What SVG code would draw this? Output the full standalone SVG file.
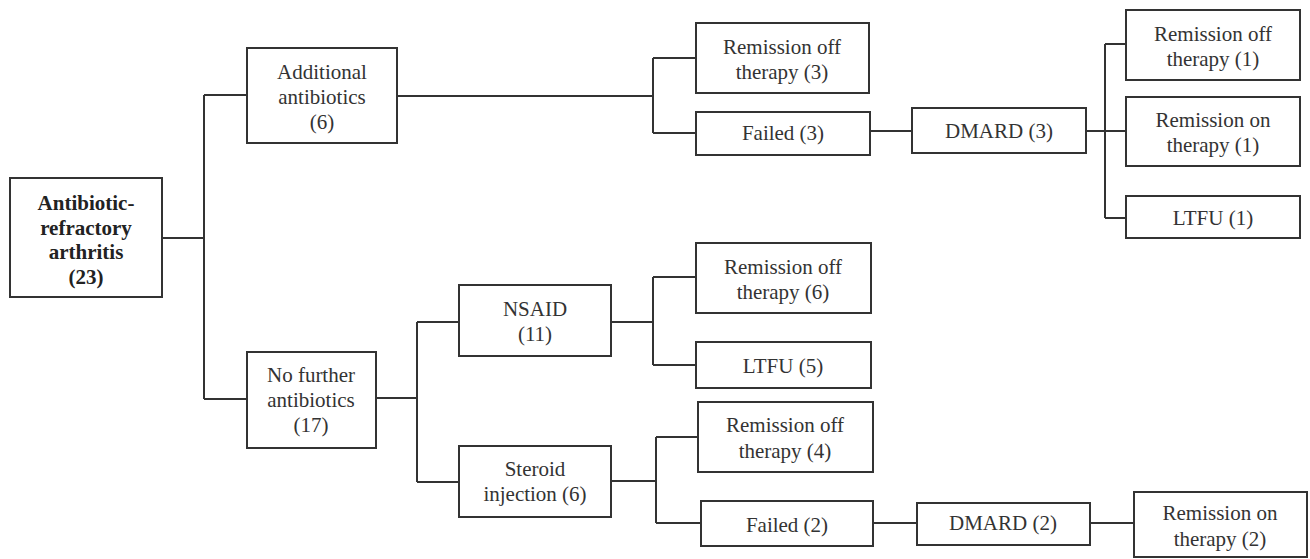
<svg xmlns="http://www.w3.org/2000/svg" width="1310" height="559" viewBox="0 0 1310 559">
<style>
.box{fill:#fff;stroke:#333;stroke-width:2}
.ln{fill:none;stroke:#333;stroke-width:2}
text{font-size:21px;fill:#333;text-anchor:middle}
.b{font-weight:bold;fill:#222}
</style>
<rect width="1310" height="559" fill="#fff"/>
<g id="connectors">
<path class="ln" d="M162 238H204M204 95V399M204 95H247M204 399H247"/>
<path class="ln" d="M397 96H653M653 58V133M653 58H696M653 133H696"/>
<path class="ln" d="M870 131H912"/>
<path class="ln" d="M1086 131H1126M1105 44V218M1105 44H1126M1105 218H1126"/>
<path class="ln" d="M376 398H417M417 322V482M417 322H459M417 482H459"/>
<path class="ln" d="M611 322H653M653 277V365M653 277H696M653 365H696"/>
<path class="ln" d="M611 481H656M656 437V523M656 437H698M656 523H701"/>
<path class="ln" d="M873 523H917M1090 523H1134"/>
</g>
<g font-family="Liberation Serif, serif">
<g id="root"><rect class="box" x="10" y="178" width="152" height="119"/>
<text class="b" x="86" y="210">Antibiotic-</text><text class="b" x="86" y="235">refractory</text><text class="b" x="86" y="259">arthritis</text><text class="b" x="86" y="284">(23)</text></g>
<g id="additional"><rect class="box" x="247" y="48" width="150" height="95"/>
<text x="322" y="79">Additional</text><text x="322" y="104">antibiotics</text><text x="322" y="129">(6)</text></g>
<g id="nofurther"><rect class="box" x="247" y="352" width="129" height="96"/>
<text x="311" y="382">No further</text><text x="311" y="407">antibiotics</text><text x="311" y="432">(17)</text></g>
<g id="remoff3"><rect class="box" x="696" y="23" width="173" height="70"/>
<text x="782" y="54">Remission off</text><text x="782" y="79">therapy (3)</text></g>
<g id="failed3"><rect class="box" x="696" y="112" width="174" height="43"/>
<text x="783" y="140">Failed (3)</text></g>
<g id="dmard3"><rect class="box" x="912" y="108" width="174" height="45"/>
<text x="999" y="138">DMARD (3)</text></g>
<g id="remoff1"><rect class="box" x="1126" y="10" width="174" height="70"/>
<text x="1213" y="41">Remission off</text><text x="1213" y="66">therapy (1)</text></g>
<g id="remon1"><rect class="box" x="1126" y="97" width="174" height="69"/>
<text x="1213" y="127">Remission on</text><text x="1213" y="152">therapy (1)</text></g>
<g id="ltfu1"><rect class="box" x="1126" y="196" width="174" height="42"/>
<text x="1213" y="225">LTFU (1)</text></g>
<g id="nsaid"><rect class="box" x="459" y="285" width="152" height="71"/>
<text x="535" y="316">NSAID</text><text x="535" y="341">(11)</text></g>
<g id="steroid"><rect class="box" x="459" y="446" width="152" height="71"/>
<text x="535" y="476">Steroid</text><text x="535" y="501">injection (6)</text></g>
<g id="remoff6"><rect class="box" x="696" y="243" width="175" height="70"/>
<text x="783" y="274">Remission off</text><text x="783" y="299">therapy (6)</text></g>
<g id="ltfu5"><rect class="box" x="696" y="342" width="175" height="46"/>
<text x="783" y="373">LTFU (5)</text></g>
<g id="remoff4"><rect class="box" x="698" y="402" width="175" height="70"/>
<text x="785" y="432">Remission off</text><text x="785" y="458">therapy (4)</text></g>
<g id="failed2"><rect class="box" x="701" y="501" width="172" height="45"/>
<text x="787" y="532">Failed (2)</text></g>
<g id="dmard2"><rect class="box" x="917" y="503" width="173" height="42"/>
<text x="1003" y="530">DMARD (2)</text></g>
<g id="remon2"><rect class="box" x="1134" y="492" width="173" height="65"/>
<text x="1220" y="520">Remission on</text><text x="1220" y="546">therapy (2)</text></g>
</g>
</svg>
